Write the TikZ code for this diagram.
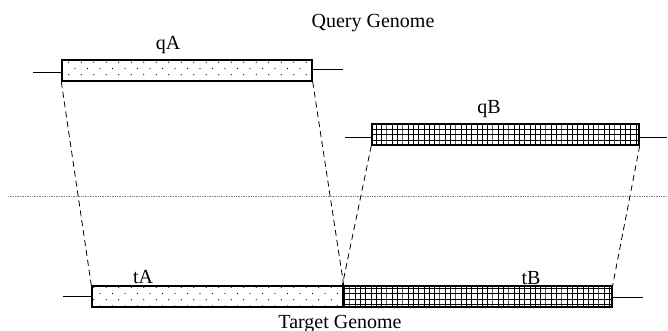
\documentclass[tikz,border=0pt]{standalone}
\usepackage{fontspec}
\setmainfont{Liberation Serif}
\usetikzlibrary{patterns}

\pgfdeclarepatternformonly{sparse dots}{\pgfqpoint{-1pt}{-1pt}}{\pgfqpoint{13.5pt}{13.5pt}}{\pgfqpoint{12.5pt}{12.5pt}}{%
  \pgfpathcircle{\pgfqpoint{0pt}{0pt}}{0.6pt}
  \pgfpathcircle{\pgfqpoint{6.25pt}{6.25pt}}{0.6pt}
  \pgfusepath{fill}}
\pgfdeclarepatternformonly{fine grid}{\pgfqpoint{-0.5pt}{-0.5pt}}{\pgfqpoint{5.8pt}{5.8pt}}{\pgfqpoint{5.3pt}{5.3pt}}{%
  \pgfsetlinewidth{0.9pt}
  \pgfpathmoveto{\pgfqpoint{0pt}{0pt}}\pgfpathlineto{\pgfqpoint{5.3pt}{0pt}}
  \pgfpathmoveto{\pgfqpoint{0pt}{0pt}}\pgfpathlineto{\pgfqpoint{0pt}{5.3pt}}
  \pgfusepath{stroke}}

\begin{document}
\begin{tikzpicture}[x=1pt,y=-1pt]
\tikzstyle{dotbox}=[draw,line width=1.4pt,inner sep=0pt,minimum height=21pt,pattern=sparse dots]
\tikzstyle{gridbox}=[draw,line width=1.4pt,inner sep=0pt,minimum height=21pt,pattern=fine grid]
\tikzstyle{lbl}=[inner sep=0pt,anchor=base,font=\fontsize{20}{20}\selectfont]
\tikzstyle{flank}=[line width=0.9pt]
\tikzstyle{link}=[dash pattern=on 6pt off 4pt,line width=0.8pt]

\useasboundingbox (0,0) rectangle (668,331);

\draw[densely dotted,gray,line width=0.7pt] (8,196) -- (668,196);

\node[dotbox,minimum width=250pt] (qA) at (187,70.5) {};
\node[gridbox,minimum width=267pt] (qB) at (505.5,134.5) {};
\node[dotbox,minimum width=251pt] (tA) at (217.5,296.5) {};
\node[gridbox,minimum width=269pt] (tB) at (477.5,296.5) {};

\node[lbl] (qAl) at (168,50) {qA};
\node[lbl] (qBl) at (489,114) {qB};
\node[lbl] (tAl) at (143,283) {tA};
\node[lbl] (tBl) at (531,284) {tB};
\node[lbl] (query) at (373,28) {Query Genome};
\node[lbl] (target) at (340,328) {Target Genome};

% flanking sequence
\coordinate (qAw) at (33,72);
\coordinate (qAe) at (343,69);
\coordinate (qBw) at (345,137);
\coordinate (qBe) at (667,137);
\coordinate (tAw) at (63,296);
\coordinate (tBe) at (643,297);
\draw[flank] (qAw) -- (qAw -| qA.west);
\draw[flank] (qAe -| qA.east) -- (qAe);
\draw[flank] (qBw) -- (qBw -| qB.west);
\draw[flank] (qBe -| qB.east) -- (qBe);
\draw[flank] (tAw) -- (tAw -| tA.west);
\draw[flank] (tBe -| tB.east) -- (tBe);

% alignments
\draw[link] (qA.south west) -- (tA.north west);
\draw[link] (qA.south east) -- (tA.north east);
\draw[link] (qB.south west) -- (tB.north west);
\draw[link] (qB.south east) -- (tB.north east);
\end{tikzpicture}
\end{document}
